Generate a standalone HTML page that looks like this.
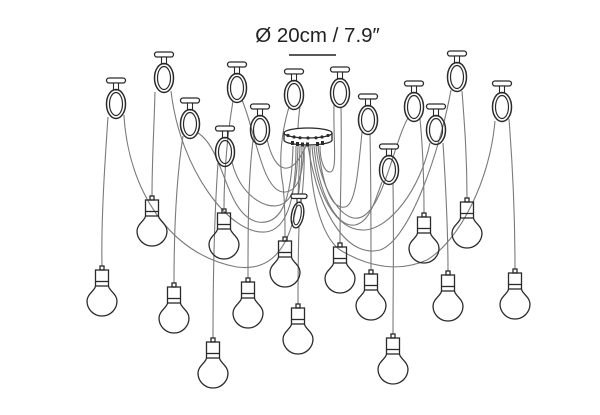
<!DOCTYPE html>
<html><head><meta charset="utf-8"><style>
html,body{margin:0;padding:0;background:#fff;}
svg{display:block;}
</style></head><body>
<svg width="600" height="415" viewBox="0 0 600 415" xmlns="http://www.w3.org/2000/svg">
<defs>
<g id="mt">
<rect x="-9.5" y="-26" width="19" height="5" rx="2.5" fill="#fff" stroke="#2a2a2a" stroke-width="1.3"/>
<rect x="-2.5" y="-21" width="5" height="7" fill="#fff" stroke="#2a2a2a" stroke-width="1.1"/>
<ellipse rx="9.5" ry="14.5" fill="none" stroke="#2a2a2a" stroke-width="1.5"/>
<ellipse rx="6.5" ry="11.5" fill="none" stroke="#2a2a2a" stroke-width="1.2"/>
</g>
<g id="bl" fill="none" stroke="#2a2a2a" stroke-width="1.3">
<rect x="-2" y="0" width="4" height="4"/>
<rect x="-6.5" y="4" width="13" height="16"/>
<line x1="-6.5" y1="15.5" x2="6.5" y2="15.5"/>
<path d="M-6.5,20 C-6.5,24 -15,28 -15,35 A15 15 0 1 0 15,35 C15,28 6.5,24 6.5,20"/>
</g>
</defs>
<rect width="600" height="415" fill="#fff"/>
<text x="317.5" y="42" font-size="20.5" text-anchor="middle" font-family="Liberation Sans, DejaVu Sans, sans-serif" fill="#222">Ø 20cm / 7.9″</text>
<line x1="289" y1="55" x2="336" y2="55" stroke="#222" stroke-width="1.5"/>

<g fill="none" stroke="#7a7a7a" stroke-width="1.1">
<!-- mount to bulb -->
<path d="M108,117 C105,160 101,220 102,266"/>
<path d="M155,92 C154,130 152,160 152,196"/>
<path d="M183,136 C176,180 174,230 174,283"/>
<path d="M233,101 C228,130 224,170 224,209"/>
<path d="M218,163 C214,220 213,280 213,338"/>
<path d="M253,141 C248,180 248,230 248,278"/>
<path d="M289,107 C282,130 278,160 283,185 C285,205 285,220 285,237"/>
<path d="M299,226 C298,260 298,280 298,304"/>
<path d="M341,107 C342,160 340,200 340,243"/>
<path d="M370,134 C371,180 371,230 371,270"/>
<path d="M393,184 C394,240 393,290 393,334"/>
<path d="M420,119 C423,150 424,180 424,213"/>
<path d="M443,143 C446,190 448,230 448,271"/>
<path d="M462,91 C465,130 467,160 467,198"/>
<path d="M509,119 C513,170 515,220 515,269"/>
<!-- loops left -->
<path d="M124,115 C128,190 170,255 237,267 C275,272 300,245 302,146"/>
<path d="M171,91 C180,170 230,235 265,232 C290,230 296,190 296,146"/>
<path d="M198,133 C225,150 225,215 258,222 C285,226 292,190 293,146"/>
<path d="M232,162 C240,195 265,210 280,205 C295,200 297,180 298,146"/>
<path d="M242,100 C255,130 262,190 283,192 C300,193 303,170 304,146"/>
<path d="M267,139 C275,175 292,178 306,146"/>
<path d="M300,106 C299,115 298,122 298,129"/>
<!-- canopy to small mount -->
<path d="M300,146 L298,197"/>
<path d="M304,146 C305,170 303,185 302,197"/>
<!-- loops right -->
<path d="M334,105 C333,140 338,172 330,172 C324,172 320,160 320,146"/>
<path d="M362,132 C358,175 355,205 345,207 C330,210 322,180 318,146"/>
<path d="M408,118 C395,140 385,200 365,215 C345,230 320,190 316,146"/>
<path d="M382,182 C375,200 370,222 355,225 C335,228 318,190 314,146"/>
<path d="M430,143 C420,190 390,228 365,230 C335,232 315,190 312,146"/>
<path d="M495,121 C490,180 460,240 427,260 C400,272 370,268 340,250 C320,235 310,190 310,146"/>
<path d="M451,90 C440,150 410,240 380,250 C350,258 320,220 308,146"/>
</g>

<!-- canopy -->
<g stroke="#2a2a2a" stroke-width="1.3">
<path d="M284,133 L284,140 A24 5 0 0 0 332,140 L332,133" fill="#fff"/>
<ellipse cx="308" cy="133" rx="24" ry="5" fill="#fff"/>
</g>
<g fill="#2a2a2a">
<circle cx="288" cy="135.5" r="1.6"/><circle cx="294" cy="137" r="1.6"/><circle cx="300" cy="137.8" r="1.6"/>
<circle cx="308" cy="138" r="1.6"/><circle cx="316" cy="137.8" r="1.6"/><circle cx="322" cy="137" r="1.6"/>
<circle cx="328" cy="135.5" r="1.6"/>
<rect x="291" y="141" width="3" height="4"/><rect x="296" y="142" width="3" height="4"/>
<rect x="301" y="142.5" width="3" height="4"/><rect x="306" y="142.5" width="3" height="4"/>
<rect x="316" y="142" width="3" height="4"/><rect x="321" y="141" width="3" height="4"/>
</g>

<!-- mounts -->
<use href="#mt" transform="translate(116,104)"/>
<use href="#mt" transform="translate(164,78)"/>
<use href="#mt" transform="translate(190,124)"/>
<use href="#mt" transform="translate(225,152)"/>
<use href="#mt" transform="translate(237,88)"/>
<use href="#mt" transform="translate(260,130)"/>
<use href="#mt" transform="translate(294,95)"/>
<use href="#mt" transform="translate(340,93)"/>
<use href="#mt" transform="translate(368,120)"/>
<use href="#mt" transform="translate(414,107)"/>
<use href="#mt" transform="translate(457,77)"/>
<use href="#mt" transform="translate(436,130)"/>
<use href="#mt" transform="translate(502,107)"/>
<use href="#mt" transform="translate(389,170)"/>
<!-- small tilted mount -->
<g stroke="#2a2a2a" fill="none">
<rect x="291" y="194" width="16" height="4.5" rx="2.2" fill="#fff" stroke-width="1.3"/>
<rect x="297" y="198.5" width="4" height="4" fill="#fff" stroke-width="1.1"/>
<ellipse cx="297.5" cy="215" rx="6" ry="13" transform="rotate(10 297.5 215)" stroke-width="1.4"/>
<ellipse cx="297.5" cy="215" rx="3.5" ry="10" transform="rotate(10 297.5 215)" stroke-width="1.1"/>
</g>

<!-- bulbs -->
<use href="#bl" transform="translate(102,266)"/>
<use href="#bl" transform="translate(152,196)"/>
<use href="#bl" transform="translate(174,283)"/>
<use href="#bl" transform="translate(224,209)"/>
<use href="#bl" transform="translate(213,338)"/>
<use href="#bl" transform="translate(248,278)"/>
<use href="#bl" transform="translate(285,237)"/>
<use href="#bl" transform="translate(298,304)"/>
<use href="#bl" transform="translate(340,243)"/>
<use href="#bl" transform="translate(371,270)"/>
<use href="#bl" transform="translate(393,334)"/>
<use href="#bl" transform="translate(424,213)"/>
<use href="#bl" transform="translate(448,271)"/>
<use href="#bl" transform="translate(467,198)"/>
<use href="#bl" transform="translate(515,269)"/>
</svg>
</body></html>
